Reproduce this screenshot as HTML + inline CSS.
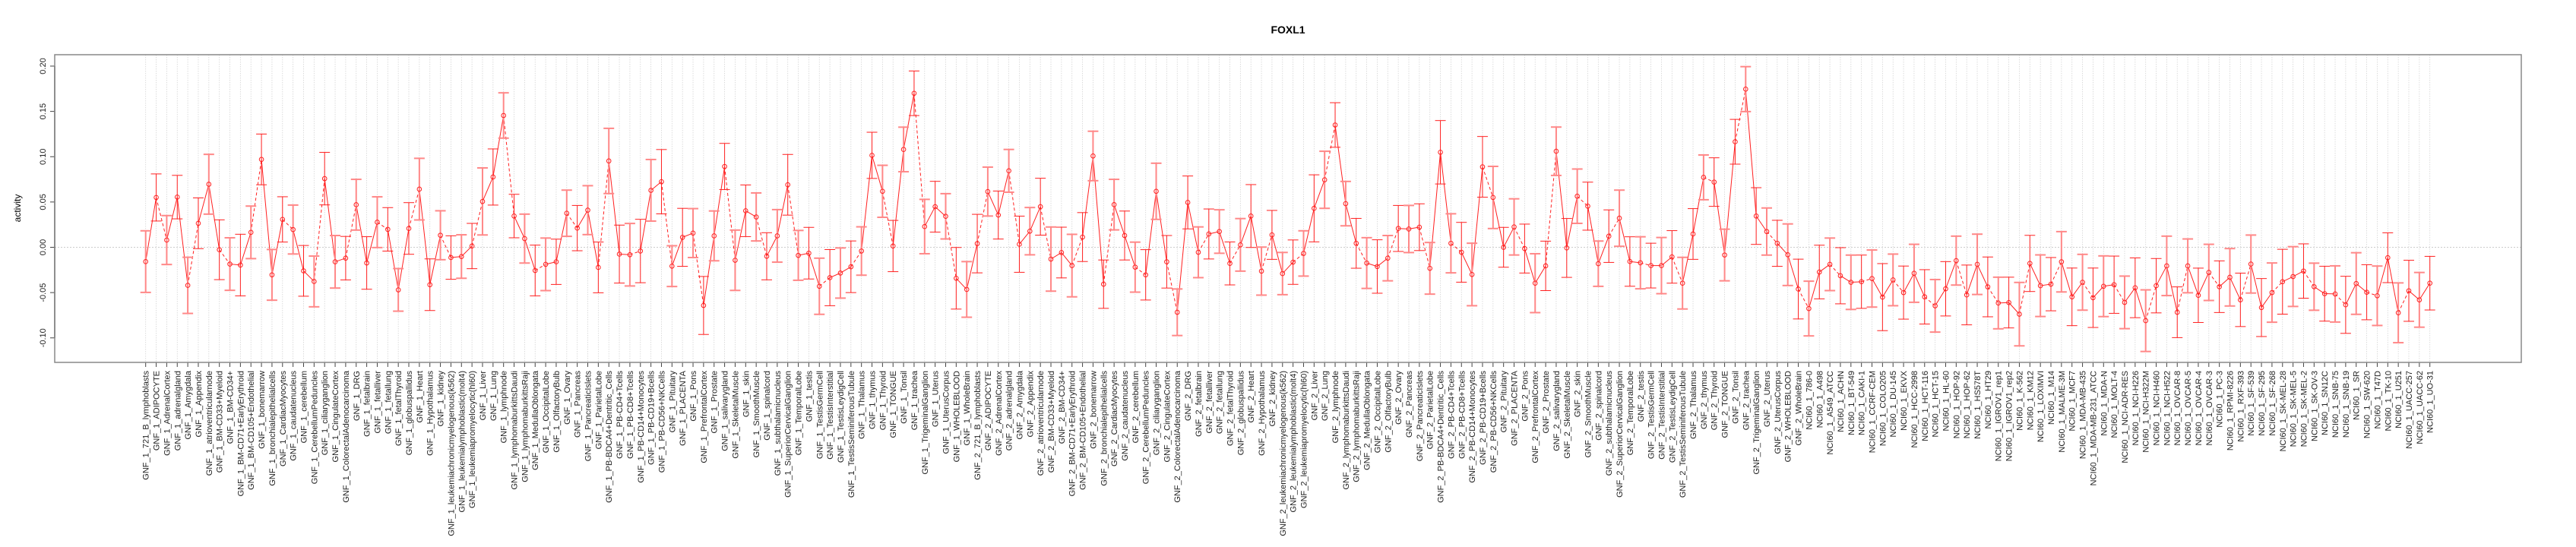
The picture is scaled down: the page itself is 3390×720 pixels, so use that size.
<!DOCTYPE html>
<html><head><meta charset="utf-8"><title>FOXL1</title>
<style>
html,body{margin:0;padding:0;background:#fff;}
svg{display:block;font-family:"Liberation Sans",Arial,sans-serif;}
</style></head>
<body>
<svg id="chart" width="3390" height="720" viewBox="0 0 3390 720" xmlns="http://www.w3.org/2000/svg">
<text x="1695" y="44" text-anchor="middle" font-size="14" font-weight="bold">FOXL1</text>
<text x="0" y="0" transform="translate(27,274) rotate(-90)" text-anchor="middle" font-size="12">activity</text>
<g id="grid"></g>
<g id="yaxis"></g>
<g id="xaxis"></g>
<g id="series"></g>
<rect x="72" y="72" width="3246" height="405" fill="none" stroke="#888" stroke-width="1.5"/>
</svg>
<script>
const tissues = ["721_B_lymphoblasts","ADIPOCYTE","AdrenalCortex","adrenalgland","Amygdala","Appendix","atrioventricularnode","BM-CD33+Myeloid","BM-CD34+","BM-CD71+EarlyErythroid","BM-CD105+Endothelial","bonemarrow","bronchialepithelialcells","CardiacMyocytes","caudatenucleus","cerebellum","CerebellumPeduncles","ciliaryganglion","CingulateCortex","ColorectalAdenocarcinoma","DRG","fetalbrain","fetalliver","fetallung","fetalThyroid","globuspallidus","Heart","Hypothalamus","kidney","leukemiachronicmyelogenous(k562)","leukemialymphoblastic(molt4)","leukemiapromyelocytic(hl60)","Liver","Lung","lymphnode","lymphomaburkittsDaudi","lymphomaburkittsRaji","MedullaOblongata","OccipitalLobe","OlfactoryBulb","Ovary","Pancreas","PancreaticIslets","ParietalLobe","PB-BDCA4+Dentritic_Cells","PB-CD4+Tcells","PB-CD8+Tcells","PB-CD14+Monocytes","PB-CD19+Bcells","PB-CD56+NKCells","Pituitary","PLACENTA","Pons","PrefrontalCortex","Prostate","salivarygland","SkeletalMuscle","skin","SmoothMuscle","spinalcord","subthalamicnucleus","SuperiorCervicalGanglion","TemporalLobe","testis","TestisGermCell","TestisInterstitial","TestisLeydigCell","TestisSeminiferousTubule","Thalamus","thymus","Thyroid","TONGUE","Tonsil","trachea","TrigeminalGanglion","Uterus","UterusCorpus","WHOLEBLOOD","WholeBrain"];
const cellLines = ["786-0","A498","A549_ATCC","ACHN","BT-549","CAKI-1","CCRF-CEM","COLO205","DU-145","EKVX","HCC-2998","HCT-116","HCT-15","HL-60","HOP-92","HOP-62","HS578T","HT29","IGROV1_rep1","IGROV1_rep2","K-562","KM12","LOXIMVI","M14","MALME-3M","MCF7","MDA-MB-435","MDA-MB-231_ATCC","MDA-N","MOLT-4","NCI-ADR-RES","NCI-H226","NCI-H322M","NCI-H460","NCI-H522","OVCAR-8","OVCAR-5","OVCAR-4","OVCAR-3","PC-3","RPMI-8226","RXF-393","SF-539","SF-295","SF-268","SK-MEL-28","SK-MEL-5","SK-MEL-2","SK-OV-3","SN12C","SNB-75","SNB-19","SR","SW-620","T47D","TK-10","U251","UACC-257","UACC-62","UO-31"];
const categories = tissues.map(t=>"GNF_1_"+t).concat(tissues.map(t=>"GNF_2_"+t)).concat(cellLines.map(c=>"NCI60_1_"+c));
const means = [
-0.0158,0.055,0.008,0.0554,-0.042,0.0265,0.0696,-0.0027,-0.0185,-0.0196,0.0165,0.097,-0.0304,0.0308,0.0196,-0.026,-0.0377,0.0758,-0.016,-0.012,0.047,-0.0173,0.0277,
0.0198,-0.047,0.0208,0.0642,-0.0413,0.0133,-0.0113,-0.0102,0.0014,0.0506,0.0776,0.1455,0.0345,0.0096,-0.0256,-0.0188,-0.016,0.0376,0.0212,0.041,-0.0222,
0.0953,-0.0075,-0.0082,-0.0041,0.0629,0.0724,-0.0208,0.011,0.0157,-0.0642,0.0126,0.0892,-0.0143,0.0403,0.0335,-0.0099,0.0126,0.069,-0.0089,-0.0065,-0.043,-0.0335,
-0.0284,-0.0215,-0.0041,0.1015,0.0618,0.0014,0.108,0.170,0.0229,0.0448,0.0342,-0.0342,-0.0465,
0.0041,0.0615,0.0356,0.0844,0.0034,0.0178,0.0448,-0.013,-0.0058,
-0.0202,0.0113,0.1008,-0.0407,0.0471,0.013,-0.0219,-0.0304,0.0618,-0.016,-0.0717,0.0495,-0.0055,0.0147,0.0174,-0.0178,0.0027,0.0345,-0.0263,0.0137,-0.029,
-0.0164,-0.0068,0.043,0.0745,0.135,0.0482,0.0044,-0.0174,-0.0212,-0.012,0.0208,0.0202,0.0222,-0.0232,0.1049,0.0044,-0.0055,-0.030,0.0888,0.055,0.0,0.0225,
-0.0014,-0.0396,-0.0205,0.106,-0.0007,0.0564,0.0454,-0.0181,0.0123,0.0321,-0.0157,-0.0171,-0.0202,-0.0202,-0.0106,-0.0396,0.0147,0.0772,0.072,-0.0085,0.1165,0.1746,
0.0345,0.0174,0.0044,-0.0082,-0.0461,
-0.0676,-0.0273,-0.0188,-0.0314,-0.0386,-0.038,-0.0345,-0.055,-0.036,-0.050,-0.0287,-0.0547,-0.0646,-0.0458,-0.0147,-0.0526,
-0.0188,-0.0437,-0.0615,-0.061,-0.0738,-0.0178,-0.0424,-0.0407,-0.016,-0.0547,-0.0386,-0.0557,-0.043,-0.0413,-0.0608,-0.0447,-0.081,-0.0424,-0.0205,-0.0717,-0.0205,-0.053,
-0.0277,-0.0435,-0.0331,-0.058,-0.0185,-0.0665,-0.050,-0.038,-0.0323,-0.0262,-0.0435,-0.0512,-0.0515,-0.0635,-0.040,-0.0496,-0.0535,-0.0115,-0.0723,-0.048,-0.058,-0.0396];
const errors = [
0.034,0.026,0.027,0.024,0.031,0.028,0.033,0.033,0.029,0.034,0.029,0.028,0.028,0.025,0.027,0.028,0.028,0.029,0.029,0.024,0.028,0.029,0.028,
0.024,0.0235,0.0285,0.034,0.0285,0.027,0.024,0.024,0.025,0.037,0.031,0.025,0.024,0.027,0.028,0.029,0.025,0.0255,0.025,0.027,0.028,
0.036,0.032,0.0345,0.035,0.034,0.0355,0.0225,0.032,0.027,0.032,0.0275,0.0255,0.0333,0.0285,0.0265,0.026,0.029,0.0335,0.0275,0.0285,0.031,0.031,
0.0277,0.0285,0.0267,0.0255,0.0287,0.0283,0.0246,0.0246,0.030,0.028,0.025,0.034,0.0307,
0.0323,0.027,0.0265,0.0236,0.031,0.0261,0.0314,0.0354,0.028,
0.0345,0.027,0.0273,0.0267,0.0279,0.027,0.0276,0.0278,0.031,0.029,0.0257,0.0292,0.028,0.0276,0.024,0.0237,0.029,0.0347,0.0265,0.027,0.0233,
0.0245,0.025,0.037,0.0315,0.0246,0.0245,0.0275,0.028,0.0295,0.025,0.0254,0.026,0.0258,0.0285,0.035,0.0326,0.033,0.0345,0.0335,0.0343,0.022,0.031,
0.027,0.0325,0.0273,0.0267,0.0325,0.030,0.0265,0.025,0.029,0.031,0.0273,0.0287,0.0247,0.031,0.029,0.0285,0.028,0.0247,0.0268,0.0285,0.0247,0.0248,
0.0313,0.026,0.0254,0.034,0.033,
0.0302,0.0296,0.029,0.031,0.030,0.0294,0.0315,0.037,0.0285,0.0293,0.032,0.030,0.029,0.030,0.027,0.033,
0.0333,0.033,0.0285,0.028,0.035,0.031,0.034,0.0294,0.0333,0.0318,0.0308,0.0328,0.0335,0.0316,0.029,0.033,0.034,0.030,0.0328,0.028,0.0297,0.030,
0.031,0.0285,0.0317,0.0295,0.032,0.032,0.0327,0.0358,0.033,0.030,0.026,0.0303,0.031,0.0315,0.034,0.0304,0.0328,0.0275,0.033,0.0337,0.0302,0.0296];
const yTicks = [-0.10,-0.05,0.00,0.05,0.10,0.15,0.20];
const yTickLabels = ["-0.10","-0.05","0.00","0.05","0.10","0.15","0.20"];

const NS = "http://www.w3.org/2000/svg";
const X0 = 191.7, X1 = 3197.7;
const Y_ZERO = 325.5, PX_PER_UNIT = 1192.5;
function xPos(i){ return X0 + (X1 - X0) * i / (categories.length - 1); }
function yPos(v){ return Y_ZERO - v * PX_PER_UNIT; }
function mk(tag, attrs, parent){
  const el = document.createElementNS(NS, tag);
  for (const k in attrs) el.setAttribute(k, attrs[k]);
  parent.appendChild(el);
  return el;
}
const grid = document.getElementById('grid');
const yaxis = document.getElementById('yaxis');
const xaxis = document.getElementById('xaxis');
const series = document.getElementById('series');

// zero line
const zl = mk('line', {x1:72, x2:3318, y1:yPos(0), y2:yPos(0), stroke:'#ccc', 'stroke-width':1, 'stroke-dasharray':'2,2'}, grid);



// y axis
const yl = mk('line', {x1:72, x2:72, y1:yPos(0.20), y2:yPos(-0.10), stroke:'#444', 'stroke-width':1.5}, yaxis);


yTicks.forEach((t, j) => {
  const tk = mk('line', {x1:66, x2:72, y1:yPos(t), y2:yPos(t), stroke:'#444', 'stroke-width':1}, yaxis);
  
  
  const tx = mk('text', {transform:`translate(60,${yPos(t)}) rotate(-90)`, 'text-anchor':'middle', 'font-size':11, fill:'#222'}, yaxis);
  tx.textContent = yTickLabels[j];
  
  
});

// categories: grid, ticks, labels
categories.forEach((c, i) => {
  const x = xPos(i);
  const g = mk('line', {x1:x, x2:x, y1:72, y2:477, stroke:'#d4d4d4', 'stroke-width':0.8, 'stroke-dasharray':'1.5,1.5'}, grid);
  
  
  const tk = mk('line', {x1:x, x2:x, y1:477, y2:483, stroke:'#444', 'stroke-width':1}, xaxis);
  
  
  const tx = mk('text', {transform:`translate(${x+4},488) rotate(-90)`, 'text-anchor':'end', 'font-size':11, fill:'#222'}, xaxis);
  tx.textContent = c;
  
  
});

// connecting line segments
for (let i = 0; i < categories.length - 1; i++) {
  const dashed = (i % 3 === 1);
  const s = mk('line', {x1:xPos(i), y1:yPos(means[i]), x2:xPos(i+1), y2:yPos(means[i+1]), stroke:'#ff2020', 'stroke-width':1, 'stroke-dasharray': dashed ? '4,3' : 'none'}, series);
  
  
}
// error bars and points
categories.forEach((c, i) => {
  const x = xPos(i), yh = yPos(means[i] + errors[i]), yl2 = yPos(means[i] - errors[i]);
  const light = (i % 2 === 0);
  const col = light ? '#f88' : '#ff2020';
  const sw = light ? 2 : 1;
  const eb = mk('g', {stroke:col, 'stroke-width':sw}, series);
  
  
  mk('line', {x1:x, x2:x, y1:yh, y2:yl2}, eb);
  mk('line', {x1:x-7, x2:x+7, y1:yh, y2:yh}, eb);
  mk('line', {x1:x-7, x2:x+7, y1:yl2, y2:yl2}, eb);
  const p = mk('circle', {cx:x, cy:yPos(means[i]), r:2.8, fill:'none', stroke:'#ff2020', 'stroke-width':1}, series);
  
  
});
</script>
</body></html>
